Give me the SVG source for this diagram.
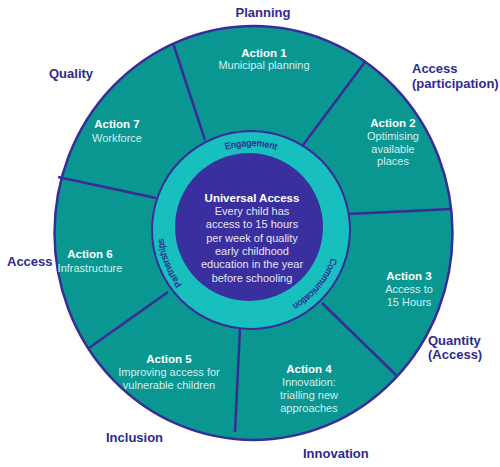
<svg xmlns="http://www.w3.org/2000/svg" width="500" height="467" viewBox="0 0 500 467">
<style>
.lbl{font-family:"Liberation Sans",Arial,sans-serif;font-weight:bold;font-size:13px;fill:#2e2a8e}
.act{font-family:"Liberation Sans",Arial,sans-serif;font-weight:bold;font-size:11.5px;fill:#ffffff;text-anchor:middle}
.sub{font-family:"Liberation Sans",Arial,sans-serif;font-size:11px;fill:#d4eeee;text-anchor:middle}
.ctr{font-family:"Liberation Sans",Arial,sans-serif;font-size:11px;fill:#e6e4f4;text-anchor:middle}
.ring{font-family:"Liberation Sans",Arial,sans-serif;font-size:9px;fill:#2e2a8e;stroke:#2e2a8e;stroke-width:0.3}
.div{stroke:#3a2c98;stroke-width:2.5;fill:none}
</style>
<defs>
<path id="arcTop" d="M186.65,176 A84,84 0 0 1 315.35,176"/>
<path id="arcLeft" d="M223.8,313.7 A88,88 0 0 1 173.3,188.7"/>
<path id="arcRight" d="M334.7,215.2 A86,86 0 0 1 251,316"/>
</defs>
<rect width="500" height="467" fill="#ffffff"/>
<ellipse id="outer" cx="253.5" cy="233" rx="199" ry="207" fill="#0a9792" stroke="#3a2c98" stroke-width="2.5"/>
<g id="connectors">
<line class="div" x1="173" y1="43" x2="205" y2="140"/>
<line class="div" x1="365" y1="62" x2="303" y2="145"/>
<line class="div" x1="452" y1="209" x2="348" y2="214"/>
<line class="div" x1="396" y1="375" x2="322" y2="303"/>
<line class="div" x1="235" y1="432" x2="240" y2="328"/>
<line class="div" x1="89" y1="348" x2="168" y2="292"/>
<line class="div" x1="58" y1="177" x2="156" y2="198"/>
</g>
<circle id="ring" cx="251" cy="230" r="99" fill="#17c0be" stroke="#3a2c98" stroke-width="2"/>
<circle cx="249" cy="227" r="74" fill="#3a2f9e"/>
<g id="engagement"><text class="ring"><textPath href="#arcTop" startOffset="50%" text-anchor="middle">Engagement</textPath></text></g>
<g id="partnerships"><text class="ring"><textPath href="#arcLeft" startOffset="50%" text-anchor="middle">Partnerships</textPath></text></g>
<g id="communication"><text class="ring"><textPath href="#arcRight" startOffset="50%" text-anchor="middle">Communication</textPath></text></g>
<g id="center">
<text class="act" x="252" y="202">Universal Access</text>
<text class="ctr" x="252" y="215">Every child has</text>
<text class="ctr" x="252" y="228">access to 15 hours</text>
<text class="ctr" x="252" y="242">per week of quality</text>
<text class="ctr" x="252" y="255">early childhood</text>
<text class="ctr" x="252" y="268">education in the year</text>
<text class="ctr" x="252" y="282">before schooling</text>
</g>
<g id="action1">
<text class="act" x="264" y="57">Action 1</text>
<text class="sub" x="264" y="69">Municipal planning</text>
</g>
<g id="action2">
<text class="act" x="393" y="127">Action 2</text>
<text class="sub" x="393" y="140">Optimising</text>
<text class="sub" x="393" y="153">available</text>
<text class="sub" x="393" y="165">places</text>
</g>
<g id="action3">
<text class="act" x="409" y="280">Action 3</text>
<text class="sub" x="409" y="293">Access to</text>
<text class="sub" x="409" y="306">15 Hours</text>
</g>
<g id="action4">
<text class="act" x="309" y="373">Action 4</text>
<text class="sub" x="309" y="386">Innovation:</text>
<text class="sub" x="309" y="399">trialling new</text>
<text class="sub" x="309" y="412">approaches</text>
</g>
<g id="action5">
<text class="act" x="169" y="363">Action 5</text>
<text class="sub" x="169" y="376">Improving access for</text>
<text class="sub" x="169" y="389">vulnerable children</text>
</g>
<g id="action6">
<text class="act" x="90" y="258">Action 6</text>
<text class="sub" x="90" y="272">Infrastructure</text>
</g>
<g id="action7">
<text class="act" x="117" y="128">Action 7</text>
<text class="sub" x="117" y="142">Workforce</text>
</g>
<g id="labels">
<text class="lbl" x="263" y="17" text-anchor="middle">Planning</text>
<text class="lbl" x="49" y="78">Quality</text>
<text class="lbl" x="412" y="73">Access</text>
<text class="lbl" x="412" y="88">(participation)</text>
<text class="lbl" x="428" y="345">Quantity</text>
<text class="lbl" x="428" y="359">(Access)</text>
<text class="lbl" x="303" y="458">Innovation</text>
<text class="lbl" x="106" y="442">Inclusion</text>
<text class="lbl" x="7" y="266">Access</text>
</g>
</svg>
